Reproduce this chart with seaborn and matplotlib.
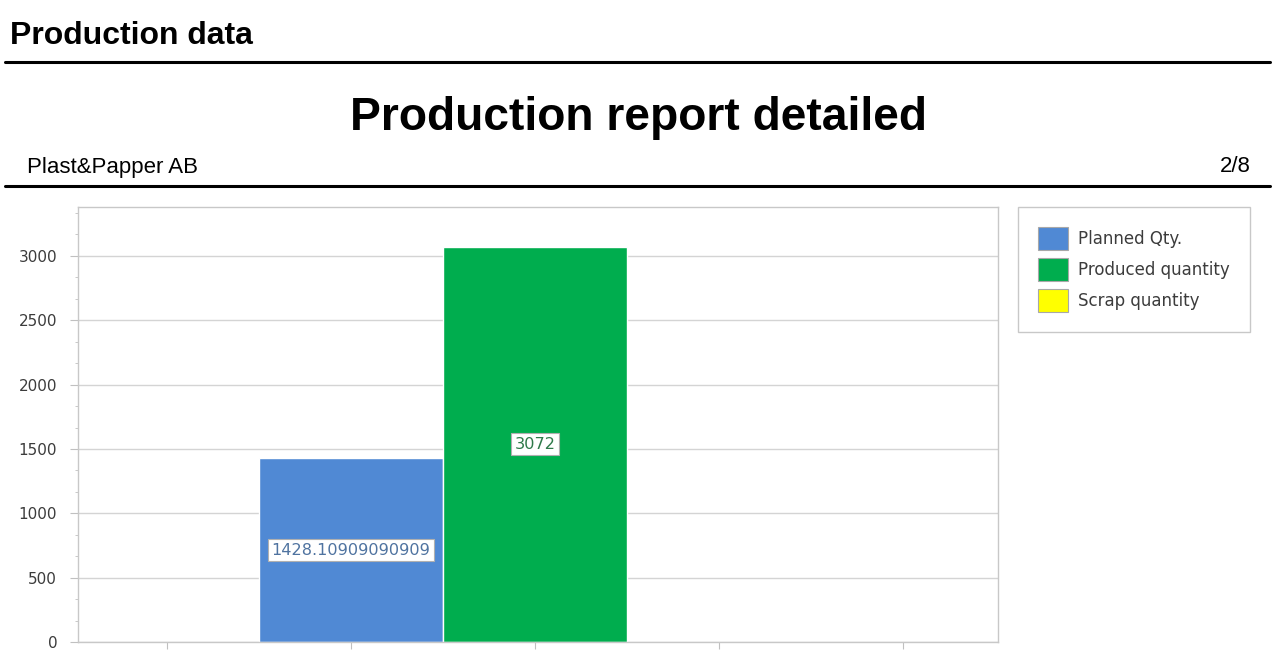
import pandas as pd
import seaborn as sns
import matplotlib.pyplot as plt
from matplotlib.lines import Line2D
from matplotlib.patches import Patch
from matplotlib.ticker import MultipleLocator

# chart data
category = ["Production"]
series = ["Planned Qty.", "Produced quantity", "Scrap quantity"]
values = [1428.10909090909, 3072, 0]
labels = ["1428.10909090909", "3072", ""]
colors = ["#5089d4", "#00ad4e", "#ffff00"]
label_colors = ["#4f73a0", "#2f7a4a", "#808000"]

sns.set_style("white")
plt.rcParams["font.family"] = ["DejaVu Sans"]

df = pd.DataFrame({"category": category * len(series), "series": series, "value": values})

fig = plt.figure(figsize=(12.72, 6.6), dpi=100)
ax = fig.add_axes([78 / 1272, 18 / 660, 920 / 1272, 435 / 660])

sns.barplot(data=df, x="category", y="value", hue="series", palette=colors,
            width=0.9, saturation=1, edgecolor="white", linewidth=1,
            legend=False, ax=ax)

for cont, lab, lc in zip(ax.containers, labels, label_colors):
    if lab:
        ax.bar_label(cont, labels=[lab], label_type="center", fontsize=11.6, color=lc,
                     bbox=dict(boxstyle="square,pad=0.22", fc="white", ec="#b0b0b0", lw=0.8))

ax.set_xlim(-0.745, 0.755)
ax.set_ylim(0, 3380)
ax.set_xticks([-0.6, -0.3, 0, 0.3, 0.6])
ax.set_xticklabels([])
ax.set_yticks(range(0, 3001, 500))
ax.yaxis.set_minor_locator(MultipleLocator(500 / 3))
ax.set_xlabel("")
ax.set_ylabel("")
ax.grid(axis="y", color="#d4d4d4", lw=1)
ax.set_axisbelow(True)
for s in ax.spines.values():
    s.set_color("#c8c8c8")
    s.set_linewidth(1)
ax.tick_params(axis="y", which="major", length=6, color="#c0c0c0", pad=9,
               labelsize=11, labelcolor="#3c3c3c", left=True)
ax.tick_params(axis="y", which="minor", length=2.5, color="#c0c0c0", left=True)
ax.tick_params(axis="x", which="major", length=5, color="#c0c0c0", bottom=True)

handles = [Patch(facecolor=c, edgecolor="#a8a8a8", lw=0.8) for c in colors]
fig.legend(handles, series, loc="upper left", bbox_to_anchor=(1018 / 1272, 1 - 207 / 660),
           borderaxespad=0, frameon=True, fancybox=False, framealpha=1, edgecolor="#c8c8c8",
           fontsize=12, labelcolor="#3c3c3c", handlelength=1.8, handleheight=1.75,
           handletextpad=0.6, labelspacing=0.48, borderpad=1.2)

# report header
fig.text(10 / 1272, 1 - 36 / 660, "Production data", fontsize=23, fontweight="bold",
         family="Liberation Sans", color="black", va="center", ha="left")
fig.add_artist(Line2D([5 / 1272, 1270 / 1272], [1 - 62 / 660] * 2, color="black", lw=2.2))
fig.text(638 / 1272, 1 - 118 / 660, "Production report detailed", fontsize=33.2, fontweight="bold",
         family="Liberation Sans", color="black", va="center", ha="center")
fig.text(27 / 1272, 1 - 167 / 660, "Plast&Papper AB", fontsize=16,
         family="Liberation Sans", color="black", va="center", ha="left")
fig.text(1251 / 1272, 1 - 167 / 660, "2/8", fontsize=16,
         family="Liberation Sans", color="black", va="center", ha="right")
fig.add_artist(Line2D([5 / 1272, 1270 / 1272], [1 - 186 / 660] * 2, color="black", lw=2.2))

fig.savefig("out.png", dpi=100)
